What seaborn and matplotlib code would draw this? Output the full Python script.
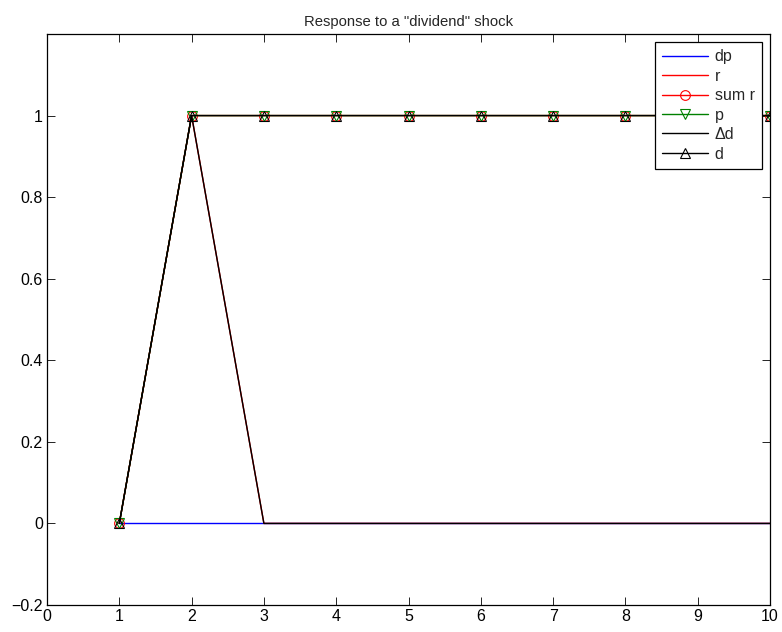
import matplotlib
matplotlib.use("Agg")
import matplotlib.pyplot as plt
from matplotlib.lines import Line2D
import seaborn as sns
import pandas as pd

sns.set_style("white")
plt.rcParams['font.family'] = ['Liberation Sans', 'DejaVu Sans']

t = [1, 2, 3, 4, 5, 6, 7, 8, 9, 10]
dp = [0, 0, 0, 0, 0, 0, 0, 0, 0, 0]
r = [0, 1, 0, 0, 0, 0, 0, 0, 0, 0]
sum_r = [0, 1, 1, 1, 1, 1, 1, 1, 1, 1]
p = [0, 1, 1, 1, 1, 1, 1, 1, 1, 1]
delta_d = [0, 1, 0, 0, 0, 0, 0, 0, 0, 0]
d = [0, 1, 1, 1, 1, 1, 1, 1, 1, 1]

series = [
    ("dp", dp, "#0000ff", None),
    ("r", r, "#ff0000", None),
    ("sum r", sum_r, "#ff0000", "o"),
    ("p", p, "#008000", "v"),
    ("\u0394d", delta_d, "#000000", None),
    ("d", d, "#000000", "^"),
]
LW = 1.0

fig = plt.figure(figsize=(7.82, 6.32), dpi=100)
ax = fig.add_axes([47 / 782, 27 / 632, 723 / 782, 571 / 632])

handles, labels = [], []
for name, vals, col, mk in series:
    df = pd.DataFrame({"t": t, "v": vals})
    n_before = len(ax.get_lines())
    sns.lineplot(data=df, x="t", y="v", ax=ax, color=col, linewidth=LW,
                 marker=mk, markersize=7, legend=False)
    for ln in ax.get_lines()[n_before:]:
        ln.set_color(col)
        ln.set_alpha(1)
        ln.set_markerfacecolor("none")
        ln.set_markeredgecolor(col)
        ln.set_markeredgewidth(0.8)
    handles.append(Line2D([], [], color=col, linewidth=LW,
                          marker=mk, markersize=7,
                          markerfacecolor="none", markeredgecolor=col,
                          markeredgewidth=0.8))
    labels.append(name)

ax.set_xlim(0, 10)
ax.set_ylim(-0.2, 1.2)
ax.set_xticks(range(0, 11))
ax.set_yticks([-0.2, 0, 0.2, 0.4, 0.6, 0.8, 1.0])
ax.set_yticklabels(["\u22120.2", "0", "0.2", "0.4", "0.6", "0.8", "1"])
ax.set_xlabel("")
ax.set_ylabel("")
ax.tick_params(direction="in", length=6, width=0.6, labelsize=11.5, colors="black",
               top=True, right=True, bottom=True, left=True, pad=3)
for s in ax.spines.values():
    s.set_color("black")
    s.set_linewidth(0.9)
ax.set_title('Response to a "dividend" shock', fontsize=10.75, pad=6)

leg = ax.legend(handles, labels, loc="upper right",
                bbox_to_anchor=(715 / 723, 1 - 8 / 571),
                fontsize=11.5, frameon=True, fancybox=False, edgecolor="black",
                framealpha=1, handlelength=2.9, borderpad=0.45, labelspacing=0.28,
                handletextpad=0.4, borderaxespad=0)
leg.get_frame().set_linewidth(0.9)

fig.savefig("out.png", dpi=100)
